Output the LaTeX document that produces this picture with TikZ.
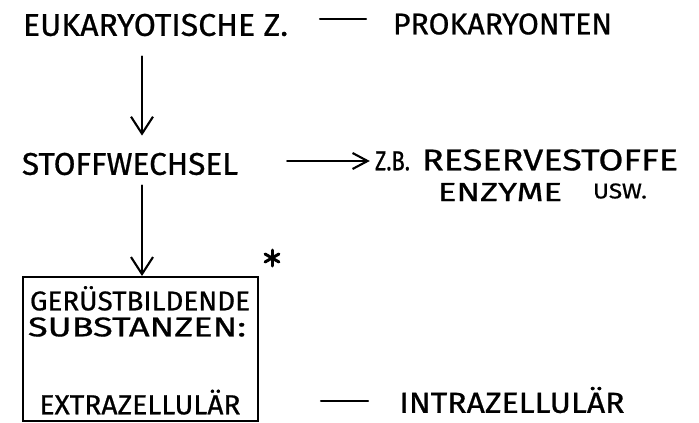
\documentclass[tikz,border=0pt]{standalone}
\usepackage{fontspec}
\newfontfamily\penfont{Fira Sans}[FakeBold=0.7]
\usetikzlibrary{arrows.meta}
% text box scaled to a given width and cap height (in pt), in a pen-like weight
\newcommand{\hw}[3]{\resizebox{#1pt}{#2pt}{\penfont #3}}
\tikzset{
  lbl/.style={inner sep=0pt, anchor=center},
  pen/.style={line width=2.1pt, line cap=round},
  arr/.style={pen, -{Straight Barb[length=17pt,width=22pt,line width=2.1pt]}},
  harr/.style={pen, -{Straight Barb[length=15pt,width=16pt,line width=2.1pt]}},
  frame/.style={draw, line width=2pt, inner sep=0pt, minimum width=235pt, minimum height=144pt},
}
\begin{document}
\begin{tikzpicture}[x=1pt,y=-1pt]
  \useasboundingbox (0,0) rectangle (699,423);
  \fill[white] (0,0) rectangle (699,423);

  % top row
  \node[lbl] (eu)  at (155.5,25) {\hw{265}{22}{EUKARYOTISCHE Z.}};
  \node[lbl] (pro) at (502.5,24) {\hw{219}{21}{PROKARYONTEN}};
  \coordinate (d1a) at (320,19);
  \coordinate (d1b) at (366,19);
  \draw[pen] (d1a) -- (d1b);

  % middle row
  \node[lbl] (stoff) at (130,164) {\hw{216}{22}{STOFFWECHSEL}};
  \node[lbl] (zb)  at (392.5,161) {\hw{35}{19}{Z.B.}};
  \node[lbl] (res) at (550,160) {\hw{256}{21}{RESERVESTOFFE}};
  \node[lbl] (enz) at (500,192) {\hw{124}{18}{ENZYME}};
  \node[lbl] (usw) at (620,191) {\hw{54}{15}{USW.}};

  % framed box
  \node[frame] (box) at (140.5,349) {};
  \node[lbl] (g1) at (140,301) {\hw{220}{19}{GER\smash{Ü}STBILDENDE}};
  \node[lbl] (g2) at (137,327) {\hw{218}{19}{SUBSTANZEN:}};
  \node[lbl] (g3) at (140,405) {\hw{201}{19}{EXTRAZELLUL\smash{Ä}R}};
  \coordinate (star) at (272,258);
  \draw[pen, line width=3pt] (star) ++(90:8) -- ++(270:16);
  \draw[pen, line width=3pt] (star) ++(30:8) -- ++(210:16);
  \draw[pen, line width=3pt] (star) ++(150:8) -- ++(330:16);

  % bottom right
  \node[lbl] (intra) at (512,403) {\hw{225}{20}{INTRAZELLUL\smash{Ä}R}};
  \coordinate (d2a) at (321,401);
  \coordinate (d2b) at (368,401);
  \draw[pen] (d2a) -- (d2b);

  % connectors
  \coordinate (colx) at (142,0);
  \draw[arr, shorten <=20pt, shorten >=17pt] (eu.south -| colx) -- (stoff.north -| colx);
  \draw[arr, shorten <=10pt] (stoff.south -| colx) -- (box.north -| colx);
  \draw[harr, shorten <=49pt, shorten >=5pt] (stoff.east |- zb.west) -- (zb.west);
\end{tikzpicture}
\end{document}
